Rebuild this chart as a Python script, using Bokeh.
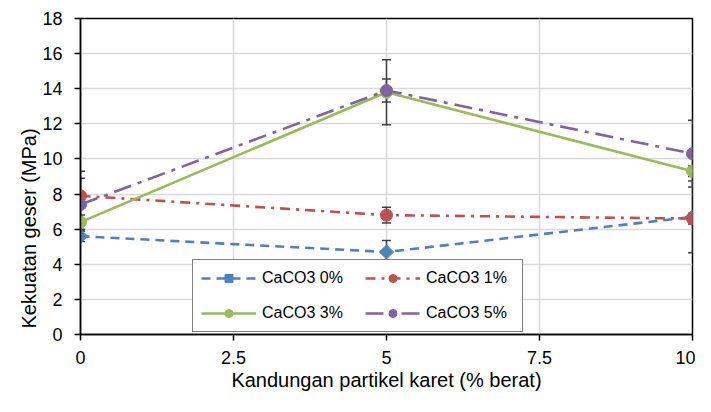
import math
from bokeh.plotting import figure
from bokeh.models import ColumnDataSource, Whisker, TeeHead, Legend, LegendItem, Title, FixedTicker
from bokeh.embed import file_html
from bokeh.resources import INLINE

# ---- data ----
x_vals = [0, 5, 10]
series_names = ["CaCO3 0%", "CaCO3 1%", "CaCO3 3%", "CaCO3 5%"]
caco3_0 = [5.6, 4.7, 6.7]
caco3_1 = [7.9, 6.8, 6.6]
caco3_3 = [6.4, 13.8, 9.3]
caco3_5 = [7.4, 13.9, 10.3]
err_0 = [0.3, 0.65, 2.05]
err_1 = [1.4, 0.45, 0.3]
err_3 = [0.4, 1.85, 0.3]
err_5 = [1.5, 0.65, 1.9]
x_ticks = [0, 2.5, 5, 7.5, 10]
y_ticks = [0, 2, 4, 6, 8, 10, 12, 14, 16, 18]
x_title = "Kandungan partikel karet (% berat)"
y_title = "Kekuatan geser (MPa)"

FONT = "Liberation Sans"
colors = ["#4F81BD", "#C0504D", "#9BBB59", "#8064A2"]
dashes = ["9 6", "10 6 3 6", "solid", "18 7 4 7"]
markers = ["square", "circle", "circle", "circle"]
msizes = [10, 12, 12, 12]
angles = [math.pi / 4, 0, 0, 0]

p = figure(width=695, height=396, x_range=(0, 10), y_range=(0, 18),
           output_backend="svg", toolbar_location=None,
           min_border_left=80, min_border_right=3, min_border_top=18,
           min_border_bottom=62)

p.outline_line_color = "black"
p.outline_line_width = 1.5

for ax, ticks in ((p.xaxis, x_ticks), (p.yaxis, y_ticks)):
    ax.ticker = FixedTicker(ticks=ticks)
    ax.axis_line_color = "black"
    ax.axis_line_width = 1.5
    ax.major_tick_line_color = "black"
    ax.major_tick_line_width = 1.5
    ax.major_tick_out = 6
    ax.major_tick_in = 0
    ax.minor_tick_line_color = None
    ax.major_label_text_font = FONT
    ax.major_label_text_font_size = "18px"
    ax.major_label_text_color = "black"

p.xaxis.major_label_standoff = 10
p.yaxis.major_label_standoff = 12
p.xaxis.major_label_overrides = {0: "0", 2.5: "2.5", 5: "5", 7.5: "7.5", 10: "10"}

p.xaxis.axis_label = x_title
p.xaxis.axis_label_text_font = FONT
p.xaxis.axis_label_text_font_size = "20px"
p.xaxis.axis_label_text_font_style = "normal"
p.xaxis.axis_label_text_color = "black"
p.xaxis.axis_label_standoff = 2

# vertical axis title, starting just above the bottom of the plot area
p.add_layout(Title(text=y_title, align="left", offset=6,
                   text_font=FONT, text_font_size="20px",
                   text_font_style="normal", text_color="black",
                   standoff=0), "left")

p.grid.grid_line_color = "#D9D9D9"
p.grid.grid_line_width = 1.5

ys = [caco3_0, caco3_1, caco3_3, caco3_5]
errs = [err_0, err_1, err_3, err_5]
line_rs = []
for i in range(4):
    src = ColumnDataSource(dict(x=x_vals, y=ys[i],
                                lo=[a - b for a, b in zip(ys[i], errs[i])],
                                hi=[a + b for a, b in zip(ys[i], errs[i])]))
    lr = p.line("x", "y", source=src, line_color=colors[i], line_width=2.6,
                line_dash=dashes[i])
    line_rs.append((lr, src))

for i in range(4):
    lr, src = line_rs[i]
    w = Whisker(source=src, base="x", upper="hi", lower="lo", dimension="height",
                line_color="#404040", line_width=1.5,
                upper_head=TeeHead(size=9, line_color="#404040", line_width=1.5),
                lower_head=TeeHead(size=9, line_color="#404040", line_width=1.5))
    p.add_layout(w)

items = {}
for i in range(4):
    lr, src = line_rs[i]
    sr = p.scatter("x", "y", source=src, marker=markers[i], size=msizes[i],
                   angle=angles[i],
                   fill_color=colors[i], line_color=colors[i])
    items[i] = LegendItem(label=series_names[i], renderers=[lr, sr])

# column-first fill -> order so rows read: 0%, 1% / 3%, 5%
legend = Legend(items=[items[0], items[2], items[1], items[3]], ncols=2,
                location=(112, 2),
                label_text_font=FONT, label_text_font_size="16px",
                label_text_color="black",
                glyph_width=55, glyph_height=20, label_height=20,
                label_width=88, label_standoff=6, spacing=15,
                padding=8, margin=0,
                border_line_color="black", border_line_width=1.5,
                background_fill_color="white", background_fill_alpha=1.0)
p.add_layout(legend, "center")

open("out.html", "w").write(file_html(p, INLINE))
